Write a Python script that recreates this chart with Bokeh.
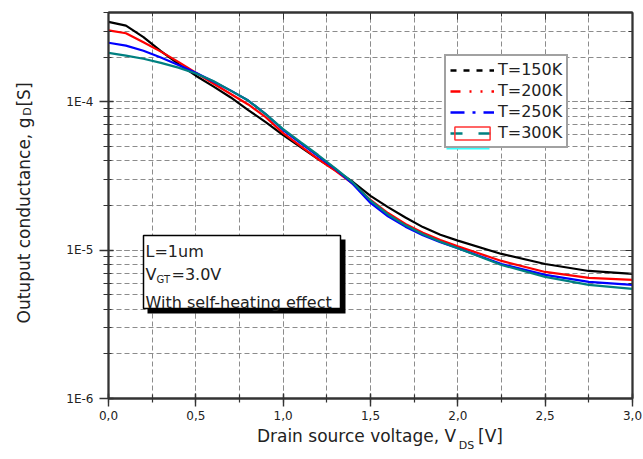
import numpy as np
from bokeh.plotting import figure
from bokeh.models import (Range1d, LinearAxis, LogAxis, SingleIntervalTicker, LogTicker,
                          FixedTicker, CustomJSTickFormatter, Legend, LegendItem, Label,
                          BoxAnnotation)
from bokeh.embed import file_html
from bokeh.resources import INLINE

# ---- data: output conductance g_D [S] vs drain-source voltage V_DS [V] ----
vds = [0.0, 0.1, 0.2, 0.3, 0.4, 0.5, 0.6, 0.7, 0.8, 0.9, 1.0, 1.1, 1.2, 1.3,
       1.4, 1.5, 1.6, 1.7, 1.8, 1.9, 2.0, 2.25, 2.5, 2.75, 3.0]

gd_150k = [3.46e-4, 3.26e-4, 2.73e-4, 2.20e-4, 1.80e-4, 1.50e-4, 1.27e-4, 1.07e-4, 8.8e-5,
           7.30e-5, 5.97e-5, 4.95e-5, 4.11e-5, 3.45e-5, 2.88e-5, 2.32e-5, 1.95e-5, 1.66e-5,
           1.43e-5, 1.27e-5, 1.16e-5, 9.43e-6, 8.07e-6, 7.24e-6, 6.91e-6]
gd_200k = [3.03e-4, 2.90e-4, 2.52e-4, 2.18e-4, 1.86e-4, 1.57e-4, 1.33e-4, 1.13e-4, 9.6e-5,
           7.89e-5, 6.15e-5, 5.03e-5, 4.11e-5, 3.42e-5, 2.80e-5, 2.18e-5, 1.78e-5, 1.50e-5,
           1.31e-5, 1.17e-5, 1.06e-5, 8.46e-6, 7.13e-6, 6.50e-6, 6.30e-6]
gd_250k = [2.50e-4, 2.39e-4, 2.21e-4, 1.99e-4, 1.77e-4, 1.57e-4, 1.37e-4, 1.19e-4, 1.02e-4,
           8.27e-5, 6.45e-5, 5.27e-5, 4.31e-5, 3.52e-5, 2.78e-5, 2.08e-5, 1.69e-5, 1.44e-5,
           1.26e-5, 1.13e-5, 1.03e-5, 8.07e-6, 6.81e-6, 6.11e-6, 5.83e-6]
gd_300k = [2.14e-4, 2.05e-4, 1.95e-4, 1.83e-4, 1.70e-4, 1.55e-4, 1.38e-4, 1.19e-4, 1.02e-4,
           8.27e-5, 6.55e-5, 5.35e-5, 4.38e-5, 3.55e-5, 2.85e-5, 2.16e-5, 1.74e-5, 1.47e-5,
           1.28e-5, 1.14e-5, 1.03e-5, 7.95e-6, 6.60e-6, 5.83e-6, 5.48e-6]

series_labels = ["T=150K", "T=200K", "T=250K", "T=300K"]
series_values = [gd_150k, gd_200k, gd_250k, gd_300k]
series_colors = ["#000000", "#ff0000", "#0000ff", "#008080"]
legend_dashes = ["6 7", "10 9 2 9 2 9", "14 8 3 8", "12 16"]

# axis titles, split so the subscripts can be set smaller
x_title = ["Drain source voltage, V", "[V]"]
x_title_sub = ["DS"]
y_title = ["Outuput conductance, g", "[S]"]
y_title_sub = ["D"]

# ---- layout constants (canvas pixels) ----
W, H = 643, 459
FL, FR, FT, FB = 108, 632, 12, 398
X0, X1 = 0.0, 3.0
Y0, Y1 = 1e-6, 4e-4
FONT = "DejaVu Sans"
INK = "#222222"
AX = "#333333"


def fx(px):
    return X0 + (px - FL) / (FR - FL) * (X1 - X0)


def fy(py):
    lo, hi = np.log10(Y0), np.log10(Y1)
    return float(10 ** (lo + (FB - py) / (FB - FT) * (hi - lo)))


p = figure(width=W, height=H, x_range=Range1d(X0, X1), y_range=Range1d(Y0, Y1),
           y_axis_type="log", output_backend="svg", toolbar_location=None,
           min_border_left=FL, min_border_right=W - FR,
           min_border_top=FT, min_border_bottom=H - FB)
p.background_fill_color = "white"
p.border_fill_color = "white"
p.outline_line_color = AX
p.outline_line_width = 1.8

xt = SingleIntervalTicker(interval=0.5, num_minor_ticks=2)
yt = LogTicker(num_minor_ticks=10)

xax = p.xaxis[0]
yax = p.yaxis[0]
xax.ticker = xt
yax.ticker = yt
xax.formatter = CustomJSTickFormatter(code="return tick.toFixed(1).replace('.', ',');")
yax.formatter = CustomJSTickFormatter(code="return '1E' + Math.round(Math.log10(tick));")

for ax in (xax, yax):
    ax.axis_line_color = AX
    ax.axis_line_width = 1.8
    ax.major_tick_line_color = AX
    ax.minor_tick_line_color = AX
    ax.major_tick_line_width = 1.4
    ax.minor_tick_line_width = 1.2
    ax.major_label_text_font = FONT
    ax.major_label_text_font_size = "12px"
    ax.major_label_text_color = INK

xax.major_tick_in, xax.major_tick_out = 5, 8
xax.minor_tick_in, xax.minor_tick_out = 4, 4
xax.major_label_standoff = 4
yax.major_tick_in, yax.major_tick_out = 5, 9
yax.minor_tick_in, yax.minor_tick_out = 3, 5
yax.major_label_standoff = 6

blank = CustomJSTickFormatter(code="return '';")
top_ax = LinearAxis(ticker=xt, formatter=blank, major_label_text_font_size="1px",
                    major_label_standoff=0, major_tick_in=7, major_tick_out=0,
                    minor_tick_in=4, minor_tick_out=0, axis_line_color=AX,
                    axis_line_width=1.8, major_tick_line_color=AX, minor_tick_line_color=AX)
right_ax = LogAxis(ticker=yt, formatter=blank, major_label_text_font_size="1px",
                   major_label_standoff=0, major_tick_in=7, major_tick_out=0,
                   minor_tick_in=4, minor_tick_out=0, axis_line_color=AX,
                   axis_line_width=1.8, major_tick_line_color=AX, minor_tick_line_color=AX)
p.add_layout(top_ax, "above")
p.add_layout(right_ax, "right")


def title_axis(side, ticks, labels, size, standoff):
    """A tick-less axis whose tick labels carry pieces of an axis title."""
    ax = LinearAxis() if side == "below" else LogAxis()
    ax.ticker = FixedTicker(ticks=ticks, minor_ticks=[])
    ax.formatter = CustomJSTickFormatter(args=dict(labels=labels),
                                         code="return labels[index];")
    ax.axis_line_color = None
    ax.major_tick_line_color = None
    ax.minor_tick_line_color = None
    ax.major_tick_in = ax.major_tick_out = 0
    ax.minor_tick_in = ax.minor_tick_out = 0
    ax.major_label_standoff = standoff
    ax.major_label_text_font = FONT
    ax.major_label_text_font_size = f"{size}px"
    ax.major_label_text_color = INK
    if side == "left":
        ax.major_label_orientation = "vertical"
    p.add_layout(ax, side)


# x title: main text ends at px 456, subscript follows, unit bracket after it
title_axis("below", [fx(356), fx(490)], x_title, 17, 3)
title_axis("below", [fx(466)], x_title_sub, 11, -10)
# y title (reads bottom to top): main text ends at py 116
title_axis("left", [fy(220), fy(94)], y_title, 17, 30)
title_axis("left", [fy(111)], y_title_sub, 11, -23)

# dashed grid on major and minor ticks
p.xgrid[0].ticker = xt
p.ygrid[0].ticker = yt
for g in (p.xgrid[0], p.ygrid[0]):
    g.grid_line_color = "#8c8c8c"
    g.grid_line_dash = "5 3"
    g.grid_line_width = 1
    g.minor_grid_line_color = "#8c8c8c"
    g.minor_grid_line_dash = "5 3"
    g.minor_grid_line_width = 1

# curves
for vals, col in zip(series_values, series_colors):
    p.line(vds, vals, line_color=col, line_width=2.2)

# legend with dashed samples (renderers hold a single NaN point, so only the key shows)
items = []
for i, (lab, col, dash) in enumerate(zip(series_labels, series_colors, legend_dashes)):
    keys = [p.line(x=[np.nan], y=[np.nan], line_color=col, line_width=2.5, line_dash=dash)]
    if i == len(series_labels) - 1:
        # selection frame drawn round the last key
        keys.append(p.quad(left=[np.nan], right=[np.nan], top=[np.nan], bottom=[np.nan],
                           fill_alpha=0.0, line_color="#ff3333", line_width=1.5))
    items.append(LegendItem(label=lab, renderers=keys))
legend = Legend(items=items, location=(444 - FL, FB - 148), orientation="vertical",
                border_line_color="#444444", border_line_width=2,
                background_fill_color="white", background_fill_alpha=1.0,
                padding=4, spacing=2, margin=0, glyph_width=44, glyph_height=16,
                label_height=16, label_standoff=4, label_text_font=FONT,
                label_text_font_size="16px", label_text_color=INK)
p.add_layout(legend)
p.add_layout(BoxAnnotation(left=fx(446), right=fx(489), top=fy(146.5), bottom=fy(149),
                           fill_color="#33ffff", fill_alpha=1.0, line_alpha=0.0,
                           level="overlay"))

# parameter box with drop shadow
p.add_layout(BoxAnnotation(left=fx(147), right=fx(345), top=fy(239), bottom=fy(313),
                           fill_color="black", fill_alpha=1.0, line_alpha=0.0))
p.add_layout(BoxAnnotation(left=fx(143), right=fx(340), top=fy(235), bottom=fy(308),
                           fill_color="white", fill_alpha=1.0, line_color="black",
                           line_alpha=1.0, line_width=1.5))


def text(t, px, py, size):
    p.add_layout(Label(x=fx(px), y=fy(py), text=t, text_font=FONT,
                       text_font_size=f"{size}px", text_color=INK, text_align="left",
                       text_baseline="alphabetic"))


text("L=1um", 145, 251, 16)
text("V", 145, 274, 16)
text("GT", 156, 279, 10)
text("=3.0V", 171, 274, 16)
text("With self-heating effect", 145, 302, 16)

open("out.html", "w").write(file_html(p, INLINE))
